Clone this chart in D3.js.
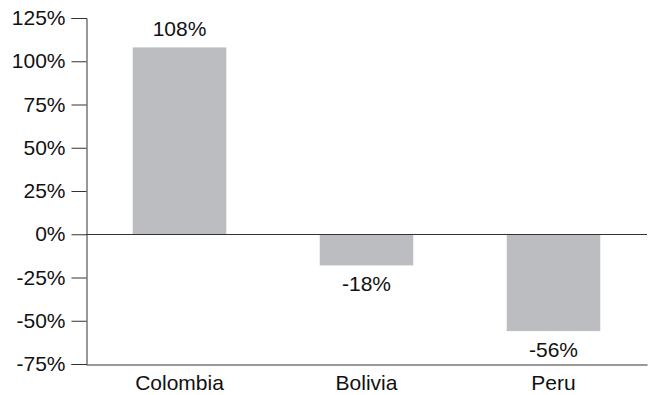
<!DOCTYPE html>
<html>
<head>
<meta charset="utf-8">
<script src="https://cdn.jsdelivr.net/npm/d3@7"></script>
<style>
  body { margin: 0; background: #fff; }
  text { font-family: "Liberation Sans", Arial, sans-serif; fill: #111; }
</style>
</head>
<body>
<div id="chart"></div>
<script>
var categories = ['Colombia', 'Bolivia', 'Peru'];
var values = [108, -18, -56];
var tickValues = [125, 100, 75, 50, 25, 0, -25, -50, -75];

var WIDTH = 651, HEIGHT = 395;
var FONT_SIZE = '21px';
var margin = { top: 18, right: 4, bottom: 31, left: 86 };

var svg = d3.select('#chart').append('svg')
    .attr('width', WIDTH)
    .attr('height', HEIGHT);

var x = d3.scaleBand()
    .domain(categories)
    .range([margin.left, WIDTH - margin.right])
    .paddingInner(0.5)
    .paddingOuter(0.25);

var y = d3.scaleLinear()
    .domain([-75, 125])
    .range([HEIGHT - margin.bottom, margin.top]);

// bars
svg.append('g').selectAll('rect')
    .data(values)
  .enter().append('rect')
    .attr('x', function(d, i) { return x(categories[i]); })
    .attr('width', x.bandwidth())
    .attr('y', function(d) { return y(Math.max(0, d)); })
    .attr('height', function(d) { return Math.abs(y(d) - y(0)); })
    .style('fill', '#bcbdc0');

// zero line
svg.append('line')
    .attr('x1', margin.left).attr('x2', WIDTH - margin.right)
    .attr('y1', Math.round(y(0)) + 0.5).attr('y2', Math.round(y(0)) + 0.5)
    .style('stroke', '#333').style('stroke-width', 1);

// y axis
var yAxis = svg.append('g')
    .attr('transform', 'translate(' + (margin.left + 0.5) + ',0)')
    .call(d3.axisLeft(y)
      .tickValues(tickValues)
      .tickSize(15)
      .tickPadding(6)
      .tickFormat(function(d) { return d + '%'; }));
yAxis.select('.domain').style('stroke', '#333');
yAxis.selectAll('.tick line').style('stroke', '#333');
yAxis.selectAll('.tick text')
    .style('font-size', FONT_SIZE)
    .style('font-family', '"Liberation Sans", Arial, sans-serif')
    .style('fill', '#111');

// x axis line at bottom
var xAxis = svg.append('g')
    .attr('transform', 'translate(0,' + (y(-75) + 0.5) + ')')
    .call(d3.axisBottom(x).tickSize(0).tickPadding(11));
xAxis.select('.domain').style('stroke', '#333');
xAxis.selectAll('.tick text')
    .style('font-size', FONT_SIZE)
    .style('font-family', '"Liberation Sans", Arial, sans-serif')
    .style('fill', '#111');

// value labels
svg.append('g').selectAll('text')
    .data(values)
  .enter().append('text')
    .attr('x', function(d, i) { return x(categories[i]) + x.bandwidth() / 2; })
    .attr('y', function(d) { return d >= 0 ? y(d) - 11 : y(d) + 26; })
    .attr('text-anchor', 'middle')
    .style('font-size', FONT_SIZE)
    .text(function(d) { return d + '%'; });
</script>
</body>
</html>
